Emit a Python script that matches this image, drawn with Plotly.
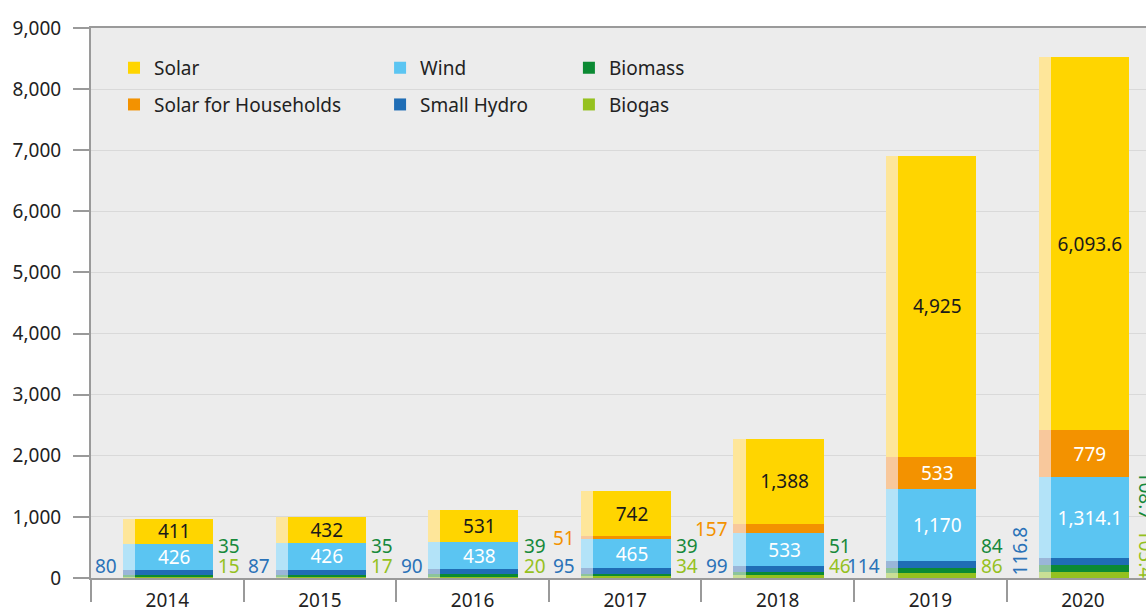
import plotly.graph_objects as go

years = ['2014', '2015', '2016', '2017', '2018', '2019', '2020']
solar = [411, 432, 531, 742, 1388, 4925, 6093.6]
solar_households = [0, 0, 0, 51, 157, 533, 779]
wind = [426, 426, 438, 465, 533, 1170, 1314.1]
small_hydro = [80, 87, 90, 95, 99, 114, 116.8]
biomass = [35, 35, 39, 39, 51, 84, 108.7]
biogas = [15, 17, 20, 34, 46, 86, 105.4]
y_ticks = [0, 1000, 2000, 3000, 4000, 5000, 6000, 7000, 8000, 9000]

FONT = "Noto Sans"
FS = 19
C = {
    'Solar': ('#ffd500', '#fee69a'),
    'Solar for Households': ('#f39200', '#f8c89c'),
    'Wind': ('#5bc5f2', '#b3e3f8'),
    'Small Hydro': ('#1f6db5', '#9ab6d8'),
    'Biomass': ('#0b8a33', '#8cc49a'),
    'Biogas': ('#95c11f', '#c9df95'),
}
TXT = {'Small Hydro': '#2a72b8', 'Biomass': '#17893b', 'Biogas': '#95c11f',
       'Solar for Households': '#f39200'}


def fmt(v):
    return f"{v:,.0f}" if float(v).is_integer() else f"{v:,.1f}"


# (name, values, legend, rank within legend)
series = [
    ('Biogas', biogas, 'legend3', 2),
    ('Biomass', biomass, 'legend3', 1),
    ('Small Hydro', small_hydro, 'legend2', 2),
    ('Wind', wind, 'legend2', 1),
    ('Solar for Households', solar_households, 'legend', 2),
    ('Solar', solar, 'legend', 1),
]

fig = go.Figure()
for name, vals, leg, rank in series:
    # pale left strip
    fig.add_trace(go.Bar(x=years, y=vals, xaxis='x2', width=0.08, offset=-0.29,
                         marker=dict(color=C[name][1], line=dict(width=0)),
                         showlegend=False, hoverinfo='skip'))
for name, vals, leg, rank in series:
    if name == 'Solar':
        text = [fmt(v) for v in vals]
        tcol = '#1a1a1a'
    elif name == 'Wind':
        text = [fmt(v) for v in vals]
        tcol = 'white'
    elif name == 'Solar for Households':
        text = [fmt(v) if v >= 300 else '' for v in vals]
        tcol = 'white'
    else:
        text = ['' for v in vals]
        tcol = 'white'
    fig.add_trace(go.Bar(x=years, y=vals, name=name, width=0.51, offset=-0.21,
                         marker=dict(color=C[name][0], line=dict(width=0)),
                         text=text, textposition='inside', insidetextanchor='middle',
                         textangle=0, constraintext='none',
                         textfont=dict(family=FONT, size=FS, color=tcol),
                         legend=leg, legendgroup=name, legendrank=rank))

ann = []
for i, yr in enumerate(years):
    last = (i == len(years) - 1)
    # small hydro label left of bar
    ann.append(dict(x=i, y=0, xref='x', yref='y', text=fmt(small_hydro[i]),
                    showarrow=False, xanchor='right', yanchor='bottom',
                    xshift=-48, yshift=1 if last else -3, textangle=-90 if last else 0,
                    font=dict(family=FONT, size=FS, color=TXT['Small Hydro'])))
    # biogas label right of bar
    ann.append(dict(x=i, y=0, xref='x', yref='y', text=fmt(biogas[i]),
                    showarrow=False, xanchor='left', yanchor='bottom',
                    xshift=49, yshift=-3, textangle=90 if last else 0,
                    font=dict(family=FONT, size=FS, color=TXT['Biogas'])))
    # biomass label right of bar
    ann.append(dict(x=i, y=0, xref='x', yref='y', text=fmt(biomass[i]),
                    showarrow=False, xanchor='left', yanchor='bottom',
                    xshift=49, yshift=55 if last else 17, textangle=90 if last else 0,
                    font=dict(family=FONT, size=FS, color=TXT['Biomass'])))
    v = solar_households[i]
    if 0 < v < 300:
        base = biogas[i] + biomass[i] + small_hydro[i] + wind[i]
        ann.append(dict(x=i, y=base + v / 2, xref='x', yref='y', text=fmt(v),
                        showarrow=False, xanchor='right', yanchor='middle',
                        xshift=-48,
                        font=dict(family=FONT, size=FS, color=TXT['Solar for Households'])))

xr = [-0.5, 6.413]
leg_common = dict(font=dict(family=FONT, size=FS, color='#222'), bgcolor='rgba(0,0,0,0)',
                  orientation='v', traceorder='grouped', tracegroupgap=9,
                  yanchor='top', y=0.962, xanchor='left', itemclick=False)
fig.update_layout(
    width=1146, height=614,
    margin=dict(l=91, r=0, t=28, b=36),
    barmode='stack',
    paper_bgcolor='white', plot_bgcolor='#ececec',
    font=dict(family=FONT, size=FS, color='#222'),
    xaxis=dict(type='category', range=xr, tickson='boundaries', ticks='outside',
               ticklen=22, tickcolor='#9a9a9a', tickwidth=2, showline=True, linecolor='#9a9a9a',
               linewidth=2, mirror=True, showgrid=False, automargin=False,
               ticklabelstandoff=4,
               tickfont=dict(family=FONT, size=FS, color='#222')),
    xaxis2=dict(type='category', range=xr, overlaying='x', visible=False, automargin=False),
    yaxis=dict(range=[0, 9000], tickvals=y_ticks, tickformat=',d', ticks='outside',
               ticklen=16, tickcolor='#9a9a9a', tickwidth=2, showline=True, linecolor='#9a9a9a',
               linewidth=2, gridcolor='#d9d9d9', gridwidth=1, zeroline=False, automargin=False,
               ticklabelstandoff=8,
               tickfont=dict(family=FONT, size=FS, color='#222')),
    legend=dict(x=0.0218, **leg_common),
    legend2=dict(x=0.274, **leg_common),
    legend3=dict(x=0.453, **leg_common),
    annotations=ann,
    showlegend=True,
)
fig.write_html("out.html", config={'displayModeBar': False},
               post_script="document.body.style.margin='0';document.body.style.overflow='hidden';")
